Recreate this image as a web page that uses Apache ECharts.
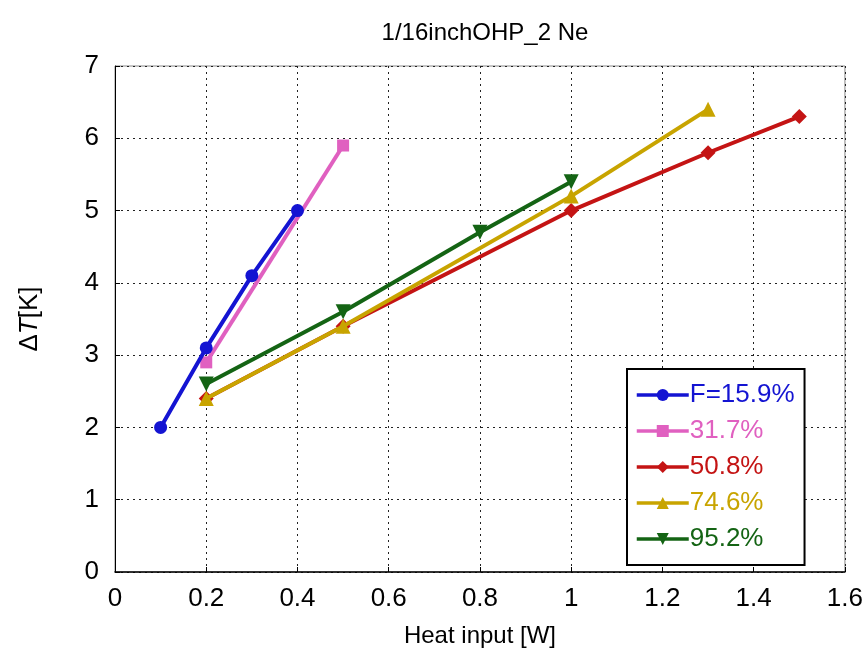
<!DOCTYPE html>
<html>
<head>
<meta charset="utf-8">
<script src="https://cdn.jsdelivr.net/npm/echarts@6/dist/echarts.min.js"></script>
<style>
  html, body { margin: 0; padding: 0; background: #fff; }
  #chart { width: 866px; height: 659px; }
</style>
</head>
<body>
<div id="chart"></div>
<script>
// Temperature difference vs. heat input for each fill ratio
const seriesNames = ['F=15.9%', '31.7%', '50.8%', '74.6%', '95.2%'];
const seriesColors = ['#1414d2', '#e060c0', '#c41414', '#c8a400', '#146414'];
const seriesSymbols = ['circle', 'rect', 'diamond', 'triangle', 'path://M0,0 L10,0 L5,10 Z'];
const seriesSymbolSizes = [13, 12, 15, 15, 15];
const seriesZ = [14, 13, 10, 11, 12];

const heat159 = [0.1, 0.2, 0.3, 0.4];
const dT159 = [2.0, 3.1, 4.1, 5.0];
const heat317 = [0.2, 0.5];
const dT317 = [2.9, 5.9];
const heat508 = [0.2, 0.5, 1.0, 1.3, 1.5];
const dT508 = [2.4, 3.4, 5.0, 5.8, 6.3];
const heat746 = [0.2, 0.5, 1.0, 1.3];
const dT746 = [2.4, 3.4, 5.2, 6.4];
const heat952 = [0.2, 0.5, 0.8, 1.0];
const dT952 = [2.6, 3.6, 4.7, 5.4];

const xTicks = [0, 0.2, 0.4, 0.6, 0.8, 1, 1.2, 1.4, 1.6];
const yTicks = [0, 1, 2, 3, 4, 5, 6, 7];

const xs = [heat159, heat317, heat508, heat746, heat952];
const ys = [dT159, dT317, dT508, dT746, dT952];

const font = '"Liberation Sans", Arial, sans-serif';

const series = seriesNames.map((name, i) => ({
  name: name,
  type: 'line',
  data: xs[i].map((x, j) => [x, ys[i][j]]),
  symbol: seriesSymbols[i],
  symbolSize: seriesSymbolSizes[i],
  itemStyle: { color: seriesColors[i] },
  lineStyle: { color: seriesColors[i], width: 4 },
  z: seriesZ[i]
}));

const chart = echarts.init(document.getElementById('chart'), null, { renderer: 'canvas' });
chart.setOption({
  animation: false,
  backgroundColor: '#fff',
  title: {
    text: '1/16inchOHP_2 Ne',
    left: 480,
    textAlign: 'center',
    top: 16,
    textStyle: { fontFamily: font, fontSize: 24, fontWeight: 'normal', color: '#000' }
  },
  grid: { left: 115, right: 21, top: 66, bottom: 87, show: true, borderColor: '#888', borderWidth: 1 },
  xAxis: {
    type: 'value',
    min: xTicks[0],
    max: xTicks[xTicks.length - 1],
    interval: 0.2,
    name: 'Heat input [W]',
    nameLocation: 'middle',
    nameGap: 52,
    nameTextStyle: { fontFamily: font, fontSize: 24, color: '#000' },
    axisLine: { show: true, lineStyle: { color: '#000', width: 1.5 } },
    axisTick: { show: true, inside: true, length: 5, lineStyle: { color: '#000' } },
    axisLabel: { fontFamily: font, fontSize: 26, color: '#000', margin: 14,
      formatter: v => String(parseFloat(v.toFixed(1))) },
    splitLine: { show: true, lineStyle: { color: '#222', type: [2, 4], width: 1 } }
  },
  yAxis: {
    type: 'value',
    min: yTicks[0],
    max: yTicks[yTicks.length - 1],
    interval: 1,
    name: '{d|Δ}{t|T}{d|[K]}',
    nameLocation: 'middle',
    nameGap: 72,
    nameRotate: 90,
    nameTextStyle: {
      rich: {
        d: { fontFamily: font, fontSize: 26, color: '#000' },
        t: { fontFamily: font, fontSize: 26, fontStyle: 'italic', color: '#000' }
      }
    },
    axisLine: { show: true, lineStyle: { color: '#000', width: 1 } },
    axisTick: { show: true, inside: true, length: 5, lineStyle: { color: '#000' } },
    axisLabel: { fontFamily: font, fontSize: 26, color: '#000', margin: 16 },
    splitLine: { show: true, lineStyle: { color: '#222', type: [2, 4], width: 1 } }
  },
  legend: {
    orient: 'vertical',
    left: 627,
    top: 369,
    width: 173,
    padding: [13, 10, 13, 8],
    itemGap: 10,
    itemWidth: 52,
    itemHeight: 15,
    backgroundColor: '#fff',
    borderColor: '#000',
    borderWidth: 2,
    borderRadius: 0,
    lineStyle: { width: 3.5 },
    data: seriesNames.map((n, i) => ({
      name: n,
      textStyle: { color: seriesColors[i], fontFamily: font, fontSize: 26, padding: [0, 0, 0, -4] }
    }))
  },
  series: series
});
</script>
</body>
</html>
